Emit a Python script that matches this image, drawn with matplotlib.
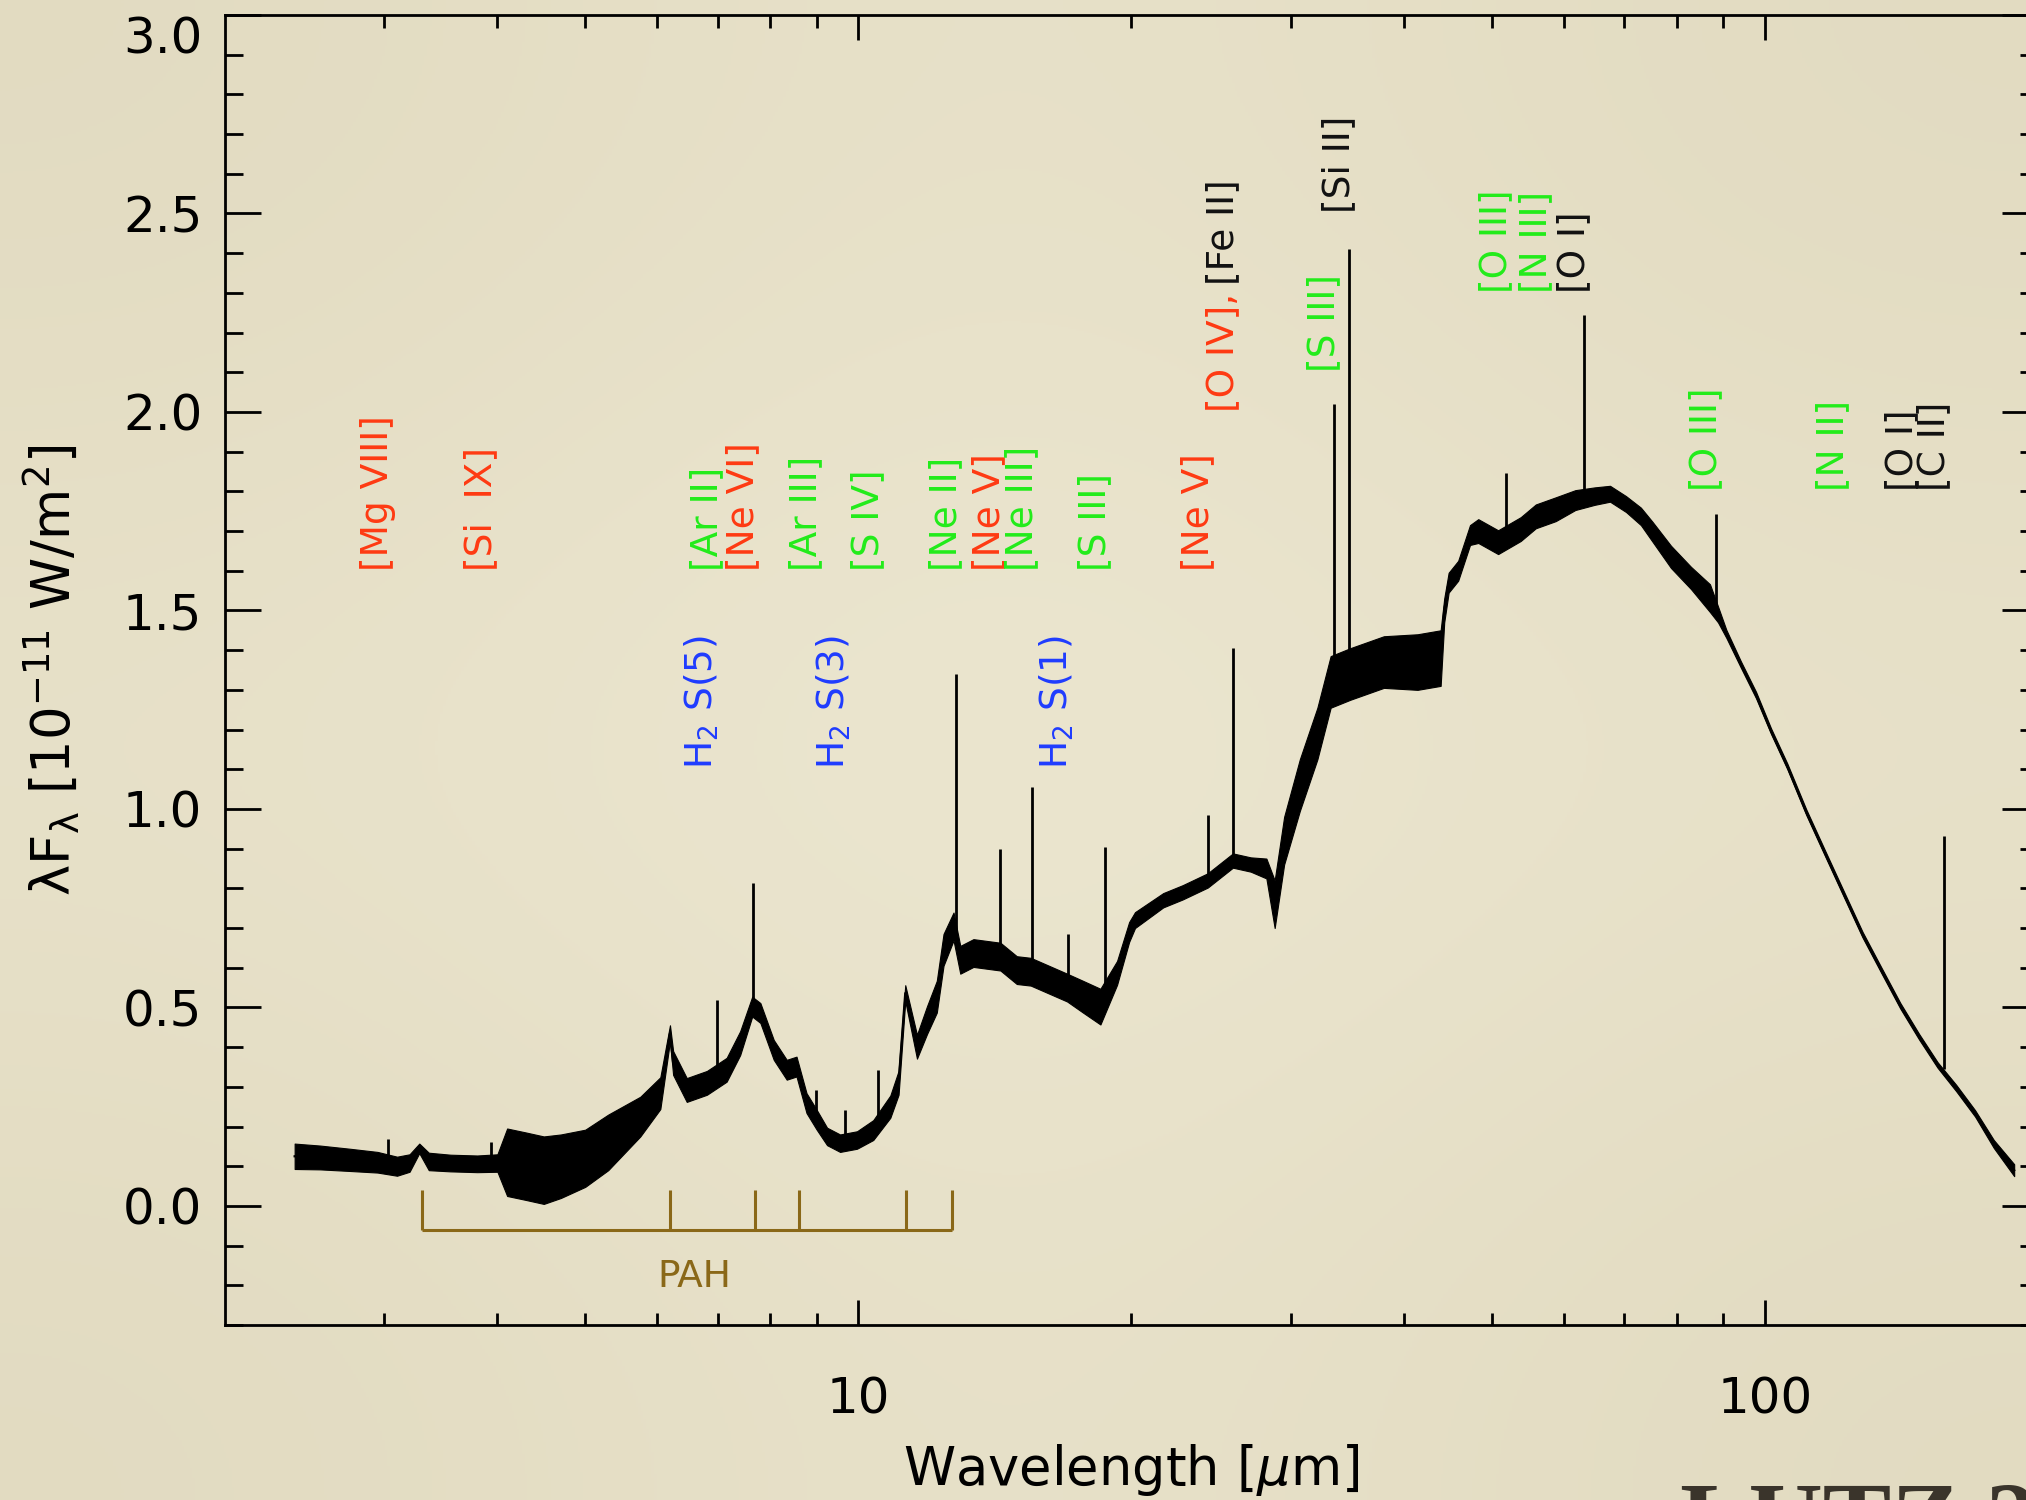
import numpy as np
import matplotlib
matplotlib.use("Agg")
import matplotlib.pyplot as plt
from matplotlib.ticker import FixedLocator, FixedFormatter, NullFormatter

# ---------------- data ----------------
# continuum anchor points of the spectrum (wavelength in micron, lambda*F_lambda)
spec_wave = [2.39, 2.55, 2.75, 2.95, 3.10, 3.20, 3.28, 3.36, 3.55, 3.80, 4.00,
             4.10, 4.30, 4.50, 4.70, 5.00, 5.30, 5.75, 6.05, 6.20, 6.25, 6.47, 6.81,
             7.16, 7.41, 7.64, 7.80, 8.07, 8.34, 8.55, 8.77, 9.00, 9.24, 9.55, 9.97,
             10.39, 10.85, 11.08, 11.27, 11.61, 11.91, 12.21, 12.42, 12.74, 12.96,
             13.40, 14.35, 14.96, 15.50, 17.00, 17.70, 18.50, 19.30, 19.90, 20.20,
             21.70, 22.80, 24.30, 25.90, 27.10, 28.20, 28.80, 29.50, 30.70, 32.10,
             33.20, 34.90, 38.00, 41.40, 43.90, 44.30, 44.80, 45.90, 47.30, 48.30,
             50.80, 53.80, 55.90, 58.80, 61.80, 64.90, 67.50, 70.30, 73.00, 75.20,
             78.80, 82.90, 87.00, 88.80, 90.70, 94.10, 97.80, 101.6, 105.9, 111.1,
             116.5, 122.2, 128.2, 134.5, 141.1, 148.0, 155.1, 162.6, 170.6, 178.9, 188.4]
spec_flux = [0.125, 0.122, 0.116, 0.110, 0.100, 0.108, 0.145, 0.112, 0.108, 0.106, 0.108,
             0.110, 0.100, 0.090, 0.100, 0.120, 0.160, 0.225, 0.284, 0.435, 0.360, 0.292, 0.310,
             0.343, 0.410, 0.502, 0.486, 0.393, 0.343, 0.351, 0.259, 0.217, 0.175, 0.158, 0.166,
             0.191, 0.250, 0.310, 0.536, 0.401, 0.468, 0.527, 0.645, 0.704, 0.620,
             0.637, 0.628, 0.594, 0.590, 0.550, 0.527, 0.502, 0.587, 0.690, 0.720,
             0.770, 0.790, 0.820, 0.870, 0.860, 0.850, 0.760, 0.920, 1.060, 1.190,
             1.320, 1.340, 1.370, 1.370, 1.380, 1.500, 1.570, 1.600, 1.690, 1.700,
             1.672, 1.705, 1.737, 1.755, 1.778, 1.788, 1.794, 1.768, 1.737, 1.698,
             1.635, 1.582, 1.531, 1.490, 1.441, 1.364, 1.287, 1.196, 1.107, 0.992,
             0.889, 0.786, 0.683, 0.593, 0.504, 0.426, 0.355, 0.297, 0.233, 0.156, 0.090]
# half-width of the noise band around the continuum
spec_noise = [0.032, 0.030, 0.028, 0.026, 0.024, 0.022, 0.012, 0.022, 0.021, 0.021, 0.022,
              0.085, 0.085, 0.085, 0.080, 0.072, 0.070, 0.050, 0.040, 0.020, 0.030, 0.030, 0.030,
              0.030, 0.030, 0.025, 0.025, 0.025, 0.025, 0.025, 0.025, 0.025, 0.022, 0.022, 0.022,
              0.025, 0.028, 0.030, 0.020, 0.030, 0.035, 0.040, 0.040, 0.035, 0.035,
              0.035, 0.035, 0.035, 0.035, 0.035, 0.040, 0.045, 0.030, 0.025, 0.020,
              0.018, 0.018, 0.018, 0.018, 0.018, 0.025, 0.060, 0.060, 0.065, 0.065,
              0.065, 0.065, 0.065, 0.070, 0.070, 0.030, 0.025, 0.025, 0.025, 0.030,
              0.030, 0.030, 0.030, 0.030, 0.025, 0.022, 0.020, 0.020, 0.022, 0.025,
              0.028, 0.028, 0.035, 0.020, 0.010, 0.008, 0.008, 0.007, 0.007, 0.007,
              0.007, 0.007, 0.007, 0.007, 0.007, 0.007, 0.007, 0.008, 0.008, 0.010, 0.015]

# narrow emission lines: wavelength, continuum at the line, peak
line_wave = [3.03, 3.94, 6.99, 7.65, 8.99, 9.66, 10.51, 12.81, 14.32, 15.56,
             17.03, 18.71, 24.32, 25.89, 33.48, 34.82, 51.81, 63.18, 88.36, 157.7]
line_base = [0.10, 0.107, 0.32, 0.50, 0.217, 0.158, 0.20, 0.68, 0.628, 0.59,
             0.55, 0.505, 0.82, 0.87, 1.33, 1.34, 1.68, 1.78, 1.50, 0.345]
line_peak = [0.168, 0.160, 0.519, 0.813, 0.292, 0.242, 0.343, 1.34, 0.90, 1.055,
             0.685, 0.905, 0.985, 1.405, 2.02, 2.41, 1.846, 2.245, 1.743, 0.933]

# line identifications
label_text = ['[Mg VIII]', '[Si  IX]', 'H$_2$ S(5)', '[Ar II]', '[Ne VI]', '[Ar III]',
              'H$_2$ S(3)', '[S IV]', '[Ne II]', '[Ne V]', '[Ne III]', 'H$_2$ S(1)',
              '[S III]', '[Ne V]', '[O IV],', '[Fe II]', '[S III]', '[Si II]',
              '[O III]', '[N III]', '[O I]', '[O III]', '[N II]', '[O I]', '[C II]']
label_wave = [3.03, 3.94, 6.91, 6.99, 7.65, 8.99, 9.66, 10.51, 12.81, 14.32, 15.56,
              17.03, 18.71, 24.32, 25.89, 25.89, 33.48, 34.82, 51.81, 57.32, 63.18,
              88.36, 121.9, 145.5, 157.7]
label_y = [1.6, 1.6, 1.1, 1.6, 1.6, 1.6, 1.1, 1.6, 1.6, 1.6, 1.6, 1.1, 1.6, 1.6,
           2.0, 2.32, 2.1, 2.5, 2.3, 2.3, 2.3, 1.8, 1.8, 1.8, 1.8]
label_kind = ['hi', 'hi', 'h2', 'mid', 'hi', 'mid', 'h2', 'mid', 'mid', 'hi', 'mid',
              'h2', 'mid', 'hi', 'hi', 'low', 'mid', 'low', 'mid', 'mid', 'low',
              'mid', 'mid', 'low', 'low']

# PAH features
pah_wave = [3.3, 6.2, 7.7, 8.6, 11.3, 12.7]

x_major = [10, 100]
x_major_labels = ['10', '100']
x_minor = [3, 4, 5, 6, 7, 8, 9, 20, 30, 40, 50, 60, 70, 80, 90]
y_major = [0.0, 0.5, 1.0, 1.5, 2.0, 2.5, 3.0]
y_major_labels = ['0.0', '0.5', '1.0', '1.5', '2.0', '2.5', '3.0']

# ---------------- styling ----------------
kind_color = {'hi': '#ff3a12', 'mid': '#22ec1a', 'low': '#111111', 'h2': '#1f3cff'}
pah_color = '#8a6818'
bg_color = '#ebe5cc'

plt.rcParams['font.family'] = ['DejaVu Sans']
plt.rcParams['mathtext.fontset'] = 'dejavusans'

W, H = 2026, 1500
fig = plt.figure(figsize=(W / 100, H / 100), dpi=100)
fig.patch.set_facecolor(bg_color)

# soft vignette of the slide background
bg = fig.add_axes([0, 0, 1, 1], zorder=-10)
c_mid = np.array([238, 233, 212]) / 255
c_edge = np.array([233, 227, 203]) / 255
c_corner = np.array([226, 219, 193]) / 255
vign = np.array([[c_corner, c_edge, c_corner],
                 [c_edge, c_mid, c_edge],
                 [c_corner, c_edge, c_corner]])
bg.imshow(vign, extent=[0, 1, 0, 1], aspect='auto', interpolation='bicubic')
bg.set_axis_off()

# axes (right edge of the frame is just outside the slide)
x0, x1 = 224.5, 2037.7
y_top, y_bot = 15, 1325
ax = fig.add_axes([x0 / W, (H - y_bot) / H, (x1 - x0) / W, (y_bot - y_top) / H])
ax.set_facecolor('none')
ax.set_xscale('log')
ax.set_xlim(2.0, 200.0)
ax.set_ylim(-0.3, 3.0)

# spectrum
sw = np.array(spec_wave)
sf = np.array(spec_flux)
sn = np.array(spec_noise)
ax.fill_between(sw, sf - sn, sf + sn, color='black', lw=0.8, zorder=3)
ax.plot(sw, sf, color='black', lw=1.6, zorder=3)
ax.vlines(line_wave, line_base, line_peak, color='black', lw=2.0, zorder=3)

# PAH bracket
ax.plot([pah_wave[0], pah_wave[-1]], [-0.06, -0.06], color=pah_color, lw=2.2,
        solid_capstyle='butt')
ax.vlines(pah_wave, -0.06, 0.04, color=pah_color, lw=2.2)
ax.text(np.sqrt(pah_wave[0] * pah_wave[-1]) * 1.02, -0.178, 'PAH', color=pah_color,
        fontsize=27, ha='center', va='center')

# line labels (rotated, baseline on the line wavelength)
for t, xw, yv, k in zip(label_text, label_wave, label_y, label_kind):
    ax.text(xw, yv, t, rotation=90, rotation_mode='anchor', ha='left', va='baseline',
            color=kind_color[k], fontsize=27, zorder=4)

# ticks
ax.xaxis.set_major_locator(FixedLocator(x_major))
ax.xaxis.set_major_formatter(FixedFormatter(x_major_labels))
ax.xaxis.set_minor_locator(FixedLocator(x_minor))
ax.xaxis.set_minor_formatter(NullFormatter())
ax.yaxis.set_major_locator(FixedLocator(y_major))
ax.yaxis.set_major_formatter(FixedFormatter(y_major_labels))
ax.yaxis.set_minor_locator(FixedLocator([v / 10 for v in range(-3, 31)]))

ax.tick_params(axis='both', which='both', direction='in', top=True, right=True,
               width=2.0, colors='black')
ax.tick_params(axis='x', which='major', length=18, pad=36, labelsize=36)
ax.tick_params(axis='x', which='minor', length=9)
ax.tick_params(axis='y', which='major', length=26, pad=16, labelsize=36)
ax.tick_params(axis='y', which='minor', length=13)
for lbl in ax.get_yticklabels():
    if lbl.get_text() == '3.0':
        lbl.set_va('top')
for s in ax.spines.values():
    s.set_linewidth(2.0)

ax.set_xlabel('Wavelength [$\\mu$m]', fontsize=38, labelpad=14)
ax.set_ylabel('λF$_{\\mathrm{λ}}$ [10$^{-11}$ W/m$^{2}$]', fontsize=38, labelpad=30)

# cut-off slide title at the bottom right
fig.text(1680 / W, -0.036, 'LUTZ 2', family='Liberation Serif', fontweight='bold',
         fontsize=74, color='#3a342b', ha='left', va='baseline')

fig.savefig('out.png', dpi=100, facecolor=fig.get_facecolor())
